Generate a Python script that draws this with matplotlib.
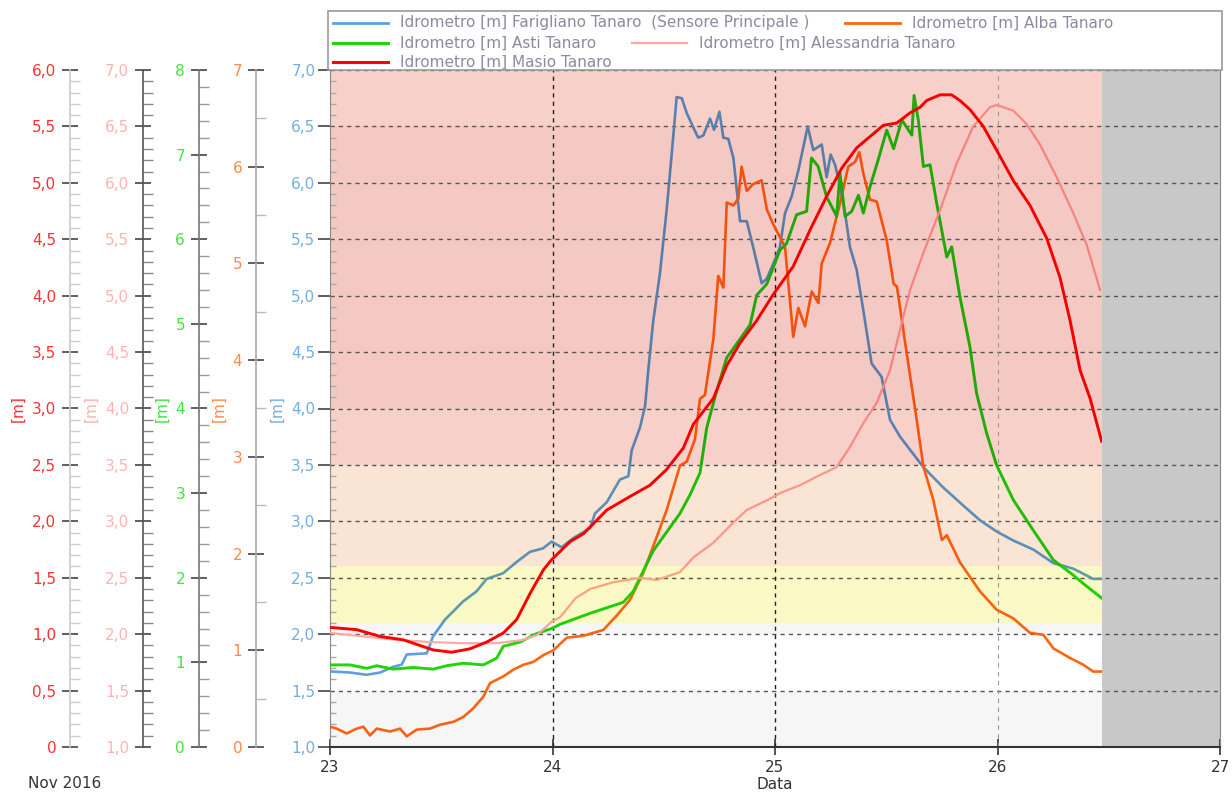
import matplotlib
matplotlib.use('Agg')
import matplotlib.pyplot as plt
from matplotlib.colors import to_rgb
from matplotlib.lines import Line2D
from matplotlib.patches import Rectangle
from matplotlib.ticker import MultipleLocator, FuncFormatter

# Tanaro hydrometers, 23-26 Nov 2016 (x = day of month, y = level in m)
t_farigliano = [23.000, 23.090, 23.165, 23.225, 23.283, 23.322, 23.345, 23.435, 23.463, 23.517,
                23.553, 23.598, 23.659, 23.704, 23.778, 23.839, 23.899, 23.957, 23.996, 24.041,
                24.092, 24.169, 24.191, 24.244, 24.303, 24.341, 24.356, 24.393, 24.416, 24.431,
                24.453, 24.483, 24.513, 24.536, 24.558, 24.581, 24.603, 24.633, 24.655, 24.678,
                24.708, 24.726, 24.750, 24.768, 24.790, 24.813, 24.843, 24.873, 24.902, 24.940,
                24.963, 25.000, 25.022, 25.045, 25.075, 25.105, 25.147, 25.172, 25.195, 25.210,
                25.232, 25.250, 25.270, 25.292, 25.315, 25.337, 25.367, 25.397, 25.434, 25.479,
                25.517, 25.562, 25.667, 25.756, 25.846, 25.921, 25.996, 26.071, 26.161, 26.251,
                26.341, 26.430, 26.468]
h_farigliano = [1.67, 1.66, 1.64, 1.66, 1.71, 1.73, 1.82, 1.83, 1.98, 2.13,
                2.20, 2.29, 2.38, 2.49, 2.54, 2.64, 2.73, 2.76, 2.82, 2.77,
                2.85, 2.94, 3.07, 3.17, 3.37, 3.40, 3.63, 3.83, 4.02, 4.35,
                4.78, 5.20, 5.76, 6.26, 6.76, 6.75, 6.62, 6.49, 6.40, 6.42,
                6.57, 6.47, 6.63, 6.40, 6.39, 6.22, 5.66, 5.66, 5.43, 5.11,
                5.15, 5.32, 5.43, 5.73, 5.88, 6.11, 6.50, 6.29, 6.32, 6.34,
                6.05, 6.25, 6.16, 5.98, 5.73, 5.43, 5.23, 4.87, 4.40, 4.28,
                3.90, 3.75, 3.48, 3.30, 3.14, 3.01, 2.91, 2.83, 2.75, 2.63,
                2.58, 2.49, 2.49]

t_alba = [23.000, 23.030, 23.075, 23.120, 23.150, 23.180, 23.210, 23.270, 23.315, 23.345,
          23.390, 23.449, 23.494, 23.554, 23.599, 23.644, 23.689, 23.719, 23.779, 23.824,
          23.869, 23.914, 23.959, 24.004, 24.064, 24.139, 24.228, 24.289, 24.348, 24.408,
          24.468, 24.513, 24.573, 24.603, 24.640, 24.663, 24.685, 24.723, 24.745, 24.768,
          24.783, 24.813, 24.835, 24.850, 24.873, 24.902, 24.940, 24.963, 24.993, 25.045,
          25.082, 25.105, 25.135, 25.165, 25.195, 25.210, 25.247, 25.292, 25.329, 25.360,
          25.379, 25.397, 25.427, 25.457, 25.502, 25.533, 25.548, 25.592, 25.637, 25.667,
          25.712, 25.750, 25.772, 25.831, 25.921, 25.996, 26.071, 26.146, 26.206, 26.251,
          26.326, 26.386, 26.430, 26.468]
h_alba = [0.21, 0.19, 0.14, 0.19, 0.21, 0.12, 0.19, 0.16, 0.19, 0.11,
          0.18, 0.19, 0.23, 0.26, 0.31, 0.40, 0.52, 0.66, 0.73, 0.80,
          0.85, 0.88, 0.95, 1.00, 1.13, 1.15, 1.21, 1.36, 1.52, 1.80,
          2.17, 2.45, 2.91, 2.95, 3.18, 3.60, 3.64, 4.22, 4.87, 4.75,
          5.63, 5.60, 5.67, 6.00, 5.75, 5.82, 5.86, 5.56, 5.40, 5.17,
          4.24, 4.54, 4.35, 4.71, 4.59, 5.00, 5.21, 5.62, 6.00, 6.05,
          6.15, 5.93, 5.66, 5.64, 5.24, 4.79, 4.76, 4.07, 3.38, 2.90,
          2.55, 2.14, 2.19, 1.91, 1.61, 1.42, 1.33, 1.18, 1.16, 1.02,
          0.92, 0.85, 0.78, 0.78]

t_asti = [23.000, 23.090, 23.165, 23.210, 23.284, 23.374, 23.464, 23.524, 23.599, 23.689,
          23.749, 23.779, 23.854, 23.929, 23.996, 24.034, 24.169, 24.318, 24.363, 24.393,
          24.453, 24.513, 24.573, 24.618, 24.663, 24.693, 24.738, 24.783, 24.843, 24.888,
          24.918, 24.963, 25.022, 25.052, 25.097, 25.142, 25.164, 25.194, 25.232, 25.262,
          25.277, 25.292, 25.315, 25.345, 25.375, 25.397, 25.427, 25.464, 25.502, 25.533,
          25.570, 25.615, 25.625, 25.644, 25.667, 25.697, 25.727, 25.772, 25.794, 25.831,
          25.876, 25.906, 25.951, 25.996, 26.071, 26.161, 26.251, 26.341, 26.386, 26.468]
h_asti = [0.97, 0.97, 0.93, 0.96, 0.92, 0.94, 0.92, 0.96, 0.99, 0.97,
          1.05, 1.19, 1.24, 1.34, 1.40, 1.45, 1.58, 1.71, 1.84, 2.00,
          2.32, 2.54, 2.76, 2.98, 3.24, 3.77, 4.21, 4.60, 4.82, 4.99,
          5.34, 5.47, 5.87, 5.95, 6.29, 6.33, 6.96, 6.86, 6.50, 6.35,
          6.27, 6.78, 6.27, 6.33, 6.52, 6.31, 6.62, 6.94, 7.29, 7.07,
          7.41, 7.23, 7.70, 7.41, 6.86, 6.88, 6.42, 5.79, 5.91, 5.32,
          4.73, 4.18, 3.71, 3.33, 2.92, 2.56, 2.21, 2.03, 1.93, 1.76]

t_alessandria = [23.000, 23.150, 23.300, 23.449, 23.599, 23.749, 23.869, 23.929, 23.996, 24.034,
                 24.104, 24.169, 24.273, 24.393, 24.468, 24.573, 24.633, 24.723, 24.813, 24.873,
                 24.978, 25.022, 25.112, 25.202, 25.277, 25.337, 25.397, 25.457, 25.517, 25.562,
                 25.607, 25.667, 25.742, 25.816, 25.891, 25.966, 25.996, 26.071, 26.131, 26.191,
                 26.266, 26.341, 26.401, 26.461]
h_alessandria = [2.01, 1.98, 1.95, 1.93, 1.92, 1.92, 1.95, 1.99, 2.11, 2.15,
                 2.32, 2.40, 2.46, 2.50, 2.48, 2.55, 2.68, 2.81, 2.99, 3.10,
                 3.20, 3.25, 3.32, 3.41, 3.48, 3.66, 3.87, 4.05, 4.34, 4.70,
                 5.05, 5.38, 5.76, 6.17, 6.50, 6.67, 6.69, 6.64, 6.52, 6.34,
                 6.05, 5.73, 5.45, 5.05]

t_masio = [23.000, 23.120, 23.225, 23.329, 23.404, 23.464, 23.547, 23.629, 23.704, 23.779,
           23.839, 23.899, 23.959, 23.996, 24.079, 24.139, 24.244, 24.348, 24.438, 24.513,
           24.588, 24.633, 24.723, 24.783, 24.843, 24.918, 24.992, 25.082, 25.157, 25.232,
           25.300, 25.367, 25.427, 25.487, 25.547, 25.607, 25.652, 25.682, 25.742, 25.794,
           25.831, 25.876, 25.936, 25.996, 26.071, 26.146, 26.221, 26.281, 26.326, 26.371,
           26.416, 26.468]
h_masio = [1.06, 1.04, 0.98, 0.95, 0.90, 0.86, 0.84, 0.87, 0.93, 1.01,
           1.13, 1.36, 1.57, 1.66, 1.82, 1.89, 2.10, 2.22, 2.32, 2.46,
           2.65, 2.86, 3.09, 3.38, 3.58, 3.78, 4.01, 4.26, 4.58, 4.88,
           5.13, 5.31, 5.41, 5.51, 5.53, 5.62, 5.67, 5.73, 5.78, 5.78,
           5.73, 5.65, 5.50, 5.29, 5.02, 4.80, 4.51, 4.16, 3.78, 3.34,
           3.09, 2.71]

# alert bands on the Farigliano scale: (low, high, colour)
bands = [(1.0, 1.5, '#f6f6f6'), (1.5, 2.0, '#ffffff'), (2.0, 2.1, '#f6f6f6'),
         (2.1, 2.6, '#faf8c5'), (2.6, 3.5, '#fae4d3'), (3.5, 4.0, '#f8d0ca'),
         (4.0, 6.5, '#f4c9c3'), (6.5, 7.0, '#f8d0ca')]

days = [23, 24, 25, 26, 27]

LEG = 'Idrometro [m] '
names = {
    'farigliano': LEG + 'Farigliano Tanaro  (Sensore Principale )',
    'alba': LEG + 'Alba Tanaro',
    'asti': LEG + 'Asti Tanaro',
    'alessandria': LEG + 'Alessandria Tanaro',
    'masio': LEG + 'Masio Tanaro',
}
colors = {'farigliano': '#5e9fdc', 'alba': '#ff6612', 'asti': '#22d40a',
          'alessandria': '#ffa8a8', 'masio': '#ff0000'}
label_colors = {'farigliano': '#74aee0', 'alba': '#ff8a4c', 'asti': '#3fe43f',
                'alessandria': '#ffb4b4', 'masio': '#ff3030'}

plt.rcParams['font.family'] = 'DejaVu Sans'
plt.rcParams['font.size'] = 11

W, H = 1232, 792
fig = plt.figure(figsize=(W / 100, H / 100), dpi=100, facecolor='white')
ax = fig.add_axes([330 / W, 45 / H, 890 / W, 677 / H])
ax.set_xlim(days[0], days[-1])
ax.set_ylim(1.0, 7.0)
t_now = max(t_farigliano[-1], t_alba[-1], t_asti[-1], t_masio[-1])


def comma(v, pos=None):
    if abs(v) < 1e-9:
        return '0'
    return f'{v:.1f}'.replace('.', ',')


def tint(c, bg):
    # band colour multiplied into the line colour
    return tuple(a * b for a, b in zip(to_rgb(c), to_rgb(bg)))


def banded_plot(a, t, h, key, lw):
    for lo, hi, bg in bands:
        line, = a.plot(t, h, color=tint(colors[key], bg), lw=lw, zorder=2)
        line.set_clip_path(Rectangle((days[0], lo), t_now - days[0], hi - lo,
                                     transform=ax.transData))


def side_axis(frac, lo, hi, key, major, minor, fmt, spine_col, minor_col, label_off):
    a = ax.twinx()
    a.set_ylim(lo, hi)
    a.yaxis.set_ticks_position('left')
    a.yaxis.set_label_position('left')
    for s in ('right', 'top', 'bottom'):
        a.spines[s].set_visible(False)
    a.spines['left'].set_visible(True)
    a.spines['left'].set_position(('axes', frac))
    a.spines['left'].set_color(spine_col)
    a.spines['left'].set_linewidth(1.2)
    a.yaxis.set_major_locator(MultipleLocator(major))
    a.yaxis.set_minor_locator(MultipleLocator(minor))
    a.yaxis.set_major_formatter(FuncFormatter(fmt))
    a.tick_params(axis='y', which='major', direction='inout', length=12, width=1.2,
                  colors='#444444', labelcolor=label_colors[key], pad=4, labelsize=11)
    a.tick_params(axis='y', which='minor', direction='in', length=7, width=1,
                  colors=minor_col)
    a.set_ylabel('[m]', color=label_colors[key], fontsize=11)
    a.yaxis.set_label_coords(frac - label_off, 0.5)
    a.patch.set_visible(False)
    return a


# background bands and the "future" block
for lo, hi, c in bands:
    ax.fill_between([days[0], t_now], lo, hi, color=c, lw=0, zorder=1)
ax.axvspan(t_now, days[-1], color='#c8c8c8', lw=0, zorder=1.1)

ax.yaxis.set_major_locator(MultipleLocator(0.5))
ax.yaxis.set_minor_locator(MultipleLocator(0.1))
ax.yaxis.set_major_formatter(FuncFormatter(comma))
ax.yaxis.grid(True, which='major', color='#555555', linestyle=(0, (3, 3)), lw=1)
ax.set_axisbelow('line')
ax.tick_params(axis='y', which='major', direction='out', length=8.5, width=1.2,
               colors='#444444', labelcolor=label_colors['farigliano'], pad=2)
ax.tick_params(axis='y', which='minor', direction='in', length=4, width=1, colors='#aaaaaa')
ax.set_ylabel('[m]', color=label_colors['farigliano'], fontsize=11)
ax.yaxis.set_label_coords(-0.0506, 0.5)

for d in days[1:3]:
    ax.axvline(d, color='#222222', linestyle=(0, (3, 3)), lw=1, zorder=1.6)
ax.axvline(days[3], color='#999999', linestyle=(0, (4, 4)), lw=0.8, zorder=1.6)

banded_plot(ax, t_farigliano, h_farigliano, 'farigliano', 1.9)

ax_alba = side_axis(-0.0831, 0, 7, 'alba', 1, 0.5, lambda v, p: f'{v:.0f}',
                    '#aaaaaa', '#bbbbbb', 0.0326)
ax_asti = side_axis(-0.1472, 0, 8, 'asti', 1, 0.2, lambda v, p: f'{v:.0f}',
                    '#777777', '#999999', 0.0326)
ax_ales = side_axis(-0.2101, 1, 7, 'alessandria', 0.5, 0.1, comma,
                    '#555555', '#888888', 0.0505)
ax_masio = side_axis(-0.2921, 0, 6, 'masio', 0.5, 0.1, comma,
                     '#cccccc', '#cccccc', 0.0505)

banded_plot(ax_alba, t_alba, h_alba, 'alba', 1.9)
banded_plot(ax_asti, t_asti, h_asti, 'asti', 2.1)
banded_plot(ax_ales, t_alessandria, h_alessandria, 'alessandria', 1.6)
banded_plot(ax_masio, t_masio, h_masio, 'masio', 2.1)

ax.set_xticks(days)
ax.set_xticklabels([str(d) for d in days])
ax.tick_params(axis='x', direction='inout', length=12, width=1.2, colors='#333333', pad=3)
ax.set_xlabel('Data', color='#333333')
ax.xaxis.set_label_coords(0.5, -0.044)

ax.spines['top'].set_visible(False)
ax.spines['right'].set_color('#888888')
ax.spines['left'].set_color('#888888')
ax.spines['bottom'].set_color('#333333')
ax.spines['bottom'].set_linewidth(1.5)

fig.text(28 / W, 1 - 783 / H, 'Nov 2016', color='#333333', va='center', ha='left')


# legend box above the plot
def fx(px):
    return px / W


def fy(py):
    return 1 - py / H


fig.add_artist(Rectangle((fx(328), fy(70)), fx(1222) - fx(328), fy(11) - fy(70),
                         transform=fig.transFigure, fill=False, edgecolor='#999999', lw=1.2))
entries = [('farigliano', 333, 23, 2.0), ('alba', 845, 23, 2.0), ('asti', 333, 43, 2.2),
           ('alessandria', 632, 43, 1.6), ('masio', 333, 62, 2.2)]
for key, x0, y0, lw in entries:
    fig.add_artist(Line2D([fx(x0), fx(x0 + 55)], [fy(y0), fy(y0)], transform=fig.transFigure,
                          color=colors[key], lw=lw))
    fig.text(fx(x0 + 67), fy(y0), names[key], color='#8a8c9e', va='center', ha='left', fontsize=11)

fig.savefig('out.png', dpi=100, facecolor='white')
